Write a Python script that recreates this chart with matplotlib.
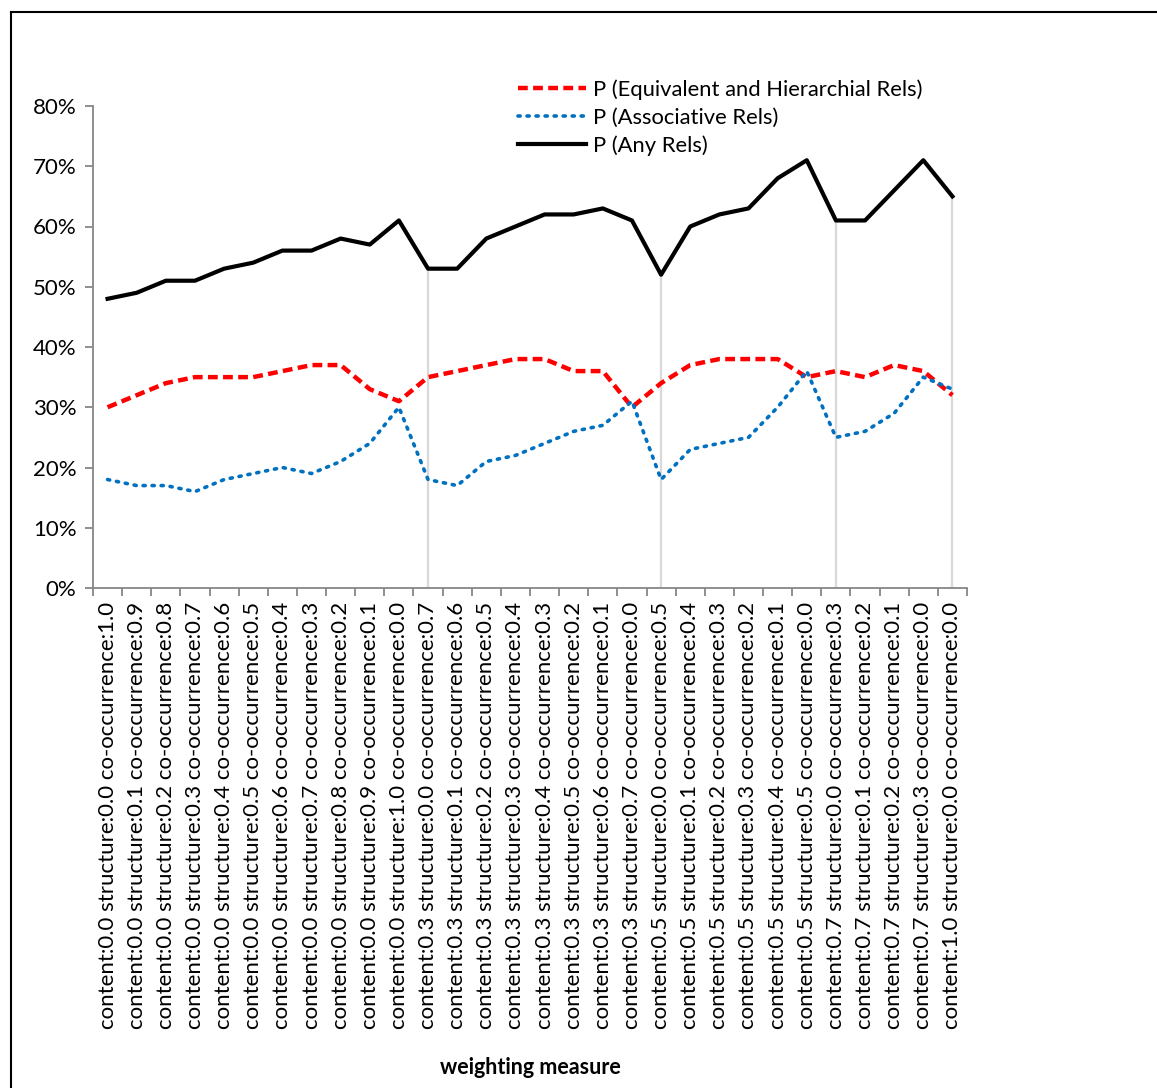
import numpy as np
import matplotlib
matplotlib.use("Agg")
import matplotlib.pyplot as plt
from matplotlib.lines import Line2D
from matplotlib.ticker import FixedLocator, PercentFormatter

plt.rcParams['font.family'] = ['Lato', 'DejaVu Sans']

# weighting measure settings (content, structure, co-occurrence)
content = ["0.0"] * 11 + ["0.3"] * 8 + ["0.5"] * 6 + ["0.7"] * 4 + ["1.0"]
structure = ["0.0", "0.1", "0.2", "0.3", "0.4", "0.5", "0.6", "0.7", "0.8", "0.9", "1.0",
             "0.0", "0.1", "0.2", "0.3", "0.4", "0.5", "0.6", "0.7",
             "0.0", "0.1", "0.2", "0.3", "0.4", "0.5",
             "0.0", "0.1", "0.2", "0.3",
             "0.0"]
cooc = ["1.0", "0.9", "0.8", "0.7", "0.6", "0.5", "0.4", "0.3", "0.2", "0.1", "0.0",
        "0.7", "0.6", "0.5", "0.4", "0.3", "0.2", "0.1", "0.0",
        "0.5", "0.4", "0.3", "0.2", "0.1", "0.0",
        "0.3", "0.2", "0.1", "0.0",
        "0.0"]
labels = [f"content:{c} structure:{s} co-occurrence:{o}"
          for c, s, o in zip(content, structure, cooc)]

# precision values in percent
p_equiv = [30, 32, 34, 35, 35, 35, 36, 37, 37, 33, 31,
           35, 36, 37, 38, 38, 36, 36, 30,
           34, 37, 38, 38, 38, 35,
           36, 35, 37, 36, 32]
p_assoc = [18, 17, 17, 16, 18, 19, 20, 19, 21, 24, 30,
           18, 17, 21, 22, 24, 26, 27, 31,
           18, 23, 24, 25, 30, 36,
           25, 26, 29, 35, 33]
p_any = [48, 49, 51, 51, 53, 54, 56, 56, 58, 57, 61,
         53, 53, 58, 60, 62, 62, 63, 61,
         52, 60, 62, 63, 68, 71,
         61, 61, 66, 71, 65]

# grey drop lines marking the group changes
drop_idx = [11, 19, 25, 29]

W, H = 1157, 1088
fig = plt.figure(figsize=(W / 100, H / 100), dpi=100)
ax = fig.add_axes([93 / W, 1 - 588 / H, (967 - 93) / W, (588 - 106) / H])

x = np.arange(len(labels))
any_arr = np.array(p_any)
for i in drop_idx:
    ax.plot([x[i], x[i]], [0, any_arr[i]], color="#d9d9d9", lw=1.6, zorder=1)

ax.plot(x, p_equiv, color="#ff0000", lw=3.2, ls=(0, (2.2, 1.2)),
        label="P (Equivalent and Hierarchial Rels)", zorder=3)
ax.plot(x, p_assoc, color="#0070c0", lw=2.6, ls=(0, (0.6, 1.9)),
        dash_capstyle="round", label="P (Associative Rels)", zorder=3)
ax.plot(x, p_any, color="black", lw=3.0, label="P (Any Rels)", zorder=4)

ax.set_xlim(-0.5, len(labels) - 0.5)
ax.set_ylim(0, 80)
ax.yaxis.set_major_locator(FixedLocator(np.arange(0, 81, 10)))
ax.yaxis.set_major_formatter(PercentFormatter(decimals=0))

ax.set_xticks(x)
ax.set_xticklabels(labels, rotation=90, fontsize=16, color="black")
ax.xaxis.set_minor_locator(FixedLocator(np.arange(-0.5, len(labels), 1)))
ax.tick_params(axis="x", which="major", length=0, pad=10)
ax.tick_params(axis="x", which="minor", length=6, width=1.3, color="#868686", direction="out")
ax.tick_params(axis="y", length=6, width=1.3, color="#868686", labelsize=16, pad=6)

for side in ("top", "right"):
    ax.spines[side].set_visible(False)
for side in ("left", "bottom"):
    ax.spines[side].set_color("#868686")
    ax.spines[side].set_linewidth(1.3)

fig.text(530 / W, 1 - 1068 / H, "weighting measure", ha="center", va="center",
         fontsize=15.5, fontweight="bold")

fig.legend(loc="upper left", bbox_to_anchor=(518 / W, 1 - 79 / H), frameon=False,
           fontsize=15.8, handlelength=3.1, handletextpad=0.3, labelspacing=0.36,
           borderpad=0, borderaxespad=0)

# outer chart border (left and top)
fig.add_artist(Line2D([10.5 / W, 10.5 / W], [0, 1 - 12 / H], color="black", lw=1.5,
                      transform=fig.transFigure))
fig.add_artist(Line2D([10.5 / W, 1], [1 - 12 / H, 1 - 12 / H], color="black", lw=1.5,
                      transform=fig.transFigure))

fig.savefig("out.png", dpi=100)
